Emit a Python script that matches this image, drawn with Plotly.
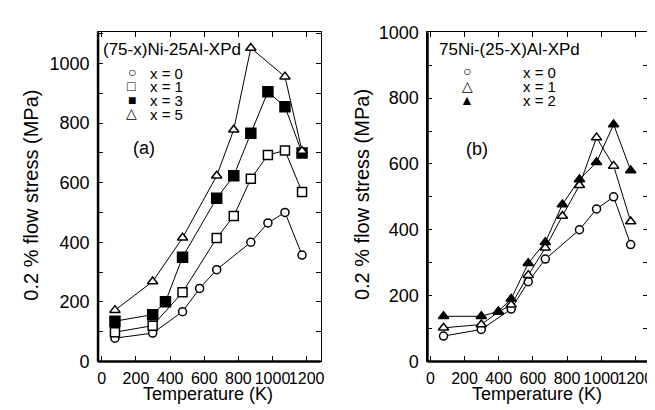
import plotly.graph_objects as go

# ---------------- data ----------------
# Panel (a): (75-x)Ni-25Al-XPd
T_a0 = [77, 298, 473, 573, 673, 873, 973, 1073, 1173]
S_a0 = [78, 95, 167, 245, 308, 400, 465, 500, 357]
T_a1 = [77, 298, 473, 673, 773, 873, 973, 1073, 1173]
S_a1 = [98, 120, 232, 414, 488, 613, 693, 708, 569]
T_a3 = [77, 298, 373, 473, 673, 773, 873, 973, 1073, 1173]
S_a3 = [135, 157, 200, 350, 548, 623, 766, 905, 855, 700]
T_a5 = [77, 298, 473, 673, 773, 873, 1073, 1173]
S_a5 = [172, 268, 415, 623, 778, 1052, 956, 706]

# Panel (b): 75Ni-(25-X)Al-XPd
T_b0 = [77, 298, 473, 573, 673, 873, 973, 1073, 1173]
S_b0 = [77, 97, 159, 242, 311, 400, 463, 500, 355]
T_b1 = [77, 298, 398, 473, 573, 673, 773, 873, 973, 1073, 1173]
S_b1 = [102, 112, 150, 172, 262, 345, 442, 535, 680, 594, 425]
T_b2 = [77, 298, 398, 473, 573, 673, 773, 873, 973, 1073, 1173]
S_b2 = [137, 137, 152, 190, 298, 362, 477, 553, 605, 720, 580]

x_ticks = [0, 200, 400, 600, 800, 1000, 1200]
y_ticks_a = [0, 200, 400, 600, 800, 1000]
y_ticks_b = [0, 200, 400, 600, 800, 1000]

FONT = "Liberation Sans, Arial, sans-serif"
W, H = 655, 410

fig = go.Figure()

def add(x, y, symbol, fill, size, xa, ya):
    fig.add_trace(go.Scatter(
        x=x, y=y, mode="lines+markers", xaxis=xa, yaxis=ya, showlegend=False,
        line=dict(color="black", width=1),
        marker=dict(symbol=symbol, size=size, color=fill,
                    line=dict(color="black", width=1.5)),
    ))

add(T_a0, S_a0, "circle", "white", 8, "x", "y")
add(T_a1, S_a1, "square", "white", 9, "x", "y")
add(T_a3, S_a3, "square", "black", 10, "x", "y")
add(T_a5, S_a5, "triangle-up", "white", 9, "x", "y")

add(T_b0, S_b0, "circle", "white", 8, "x2", "y2")
add(T_b1, S_b1, "triangle-up", "white", 9, "x2", "y2")
add(T_b2, S_b2, "triangle-up", "black", 9, "x2", "y2")

def xaxis(domain, anchor, rng):
    return dict(domain=domain, anchor=anchor, range=rng,
                tickvals=x_ticks, ticks="inside", ticklen=5, tickwidth=1,
                tickcolor="black", showline=True, linecolor="black",
                linewidth=1, mirror="ticks", showgrid=False, zeroline=False,
                tickangle=0, ticklabelstandoff=2,
                tickfont=dict(family=FONT, size=16, color="black"))

def yaxis(domain, anchor, rng, tv):
    return dict(domain=domain, anchor=anchor, range=rng,
                tickvals=tv, ticks="inside", ticklen=5, tickwidth=1,
                tickcolor="black", showline=True, linecolor="black",
                linewidth=1, mirror="ticks", showgrid=False, zeroline=False,
                minor=dict(dtick=100, ticks="inside", ticklen=5,
                           tickcolor="black", tickwidth=1, showgrid=False),
                ticklabelstandoff=4,
                tickfont=dict(family=FONT, size=18, color="black"))

ydom = [1 - 361 / H, 1 - 15 / H]
fig.update_layout(
    width=W, height=H, margin=dict(l=0, r=0, t=0, b=0),
    paper_bgcolor="white", plot_bgcolor="white", showlegend=False,
    xaxis=xaxis([89 / W, 314 / W], "y", [-22, 1282]),
    yaxis=yaxis(ydom, "x", [0, 1105], y_ticks_a),
    xaxis2=xaxis([422 / W, 645 / W], "y2", [-17, 1275]),
    yaxis2=yaxis(ydom, "x2", [0, 1000], y_ticks_b),
)

# thick left / bottom frame lines
for xr, yr in (("x domain", "y domain"), ("x2 domain", "y2 domain")):
    fig.add_shape(type="line", xref=xr, yref=yr, x0=0, x1=0, y0=0, y1=1,
                  line=dict(color="black", width=2.5))
    fig.add_shape(type="line", xref=xr, yref=yr, x0=0, x1=1, y0=0, y1=0,
                  line=dict(color="black", width=2.5))

def ann(text, xpx, ypx, size, xanchor="left", angle=0):
    fig.add_annotation(text=text, xref="paper", yref="paper",
                       x=xpx / W, y=1 - ypx / H, xanchor=xanchor,
                       yanchor="middle", showarrow=False, textangle=angle,
                       font=dict(family=FONT, size=size, color="black"))

# axis titles
ann("0.2 % flow stress (MPa)", 21, 186, 20, "center", -90)
ann("0.2 % flow stress (MPa)", 356, 186, 20, "center", -90)
ann("Temperature (K)", 200, 395, 18, "center")
ann("Temperature (K)", 533, 395, 18, "center")

# panel (a) legend
ann("(75-x)Ni-25Al-XPd", 92, 33, 17)
sym_a = ["○", "□", "■", "△"]
lab_a = ["x = 0", "x = 1", "x = 3", "x = 5"]
rows_a = [57, 71, 86, 100]
for s, l, r in zip(sym_a, lab_a, rows_a):
    ann(s, 123, r, 14, "center")
    ann(l, 139, r + 1, 15)
ann("(a)", 122, 137, 18)

# panel (b) legend
ann("75Ni-(25-X)Al-XPd", 432, 33, 17)
sym_b = ["○", "△", "▲"]
lab_b = ["x = 0", "x = 1", "x = 2"]
rows_b = [56, 71, 86]
for s, l, r in zip(sym_b, lab_b, rows_b):
    ann(s, 462, r, 14, "center")
    ann(l, 517, r + 1, 15)
ann("(b)", 459, 138, 18)

fig.write_html("out.html")
